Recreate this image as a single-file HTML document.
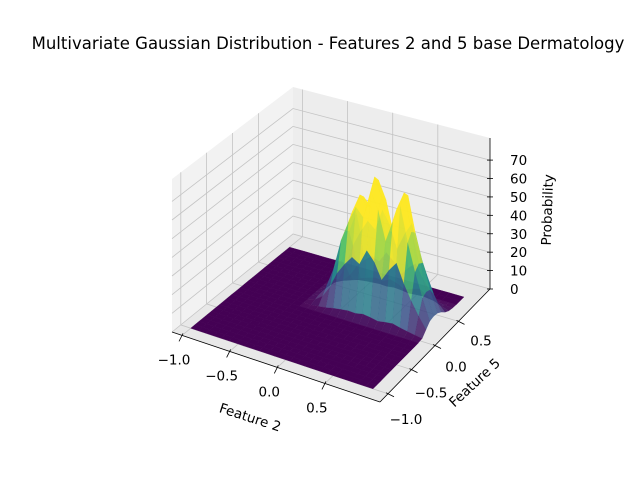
<!DOCTYPE html>
<html><head><meta charset="utf-8"><style>
body{margin:0;background:#fff;}
svg{display:block;font-family:"DejaVu Sans","Liberation Sans",sans-serif;}
</style></head><body>
<svg id="chart" width="640" height="480" viewBox="0 0 640 480">
<text x="328" y="49" text-anchor="middle" font-size="16.5" fill="#000">Multivariate Gaussian Distribution - Features 2 and 5 base Dermatology</text>
<g id="panes"></g><g id="grid"></g><g id="axes"></g><g id="surface"></g><g id="labels"></g>
<text x="250" y="422" text-anchor="middle" font-size="13.5" transform="rotate(18 250 418)">Feature 2</text>
<text x="475" y="387" text-anchor="middle" font-size="13.5" transform="rotate(-43 475 383)">Feature 5</text>
<text x="552" y="210" text-anchor="middle" font-size="13.5" transform="rotate(-88 552 210)">Probability</text>
</svg>
<script>
// data
const xGrid = [-1,-0.92,-0.84,-0.76,-0.68,-0.6,-0.52,-0.44,-0.36,-0.28,-0.2,-0.12,-0.04,0.04,0.12,0.2,0.28,0.36,0.44,0.52,0.6,0.68,0.76,0.84,0.92];
const yGrid = [-1,-0.92,-0.84,-0.76,-0.68,-0.6,-0.52,-0.44,-0.36,-0.28,-0.2,-0.12,-0.04,0.04,0.12,0.2,0.28,0.36,0.44,0.52,0.6,0.68,0.76,0.84,0.92];
const colPeak = [0,0,0,0,0,0,0,0,0,2,8,20,38,50,60,55,72,62,45,58,68,48,32,18,6];
const rowProfile = [0,0,0,0,0,0,0,0,0,0,0,0,0,0.05,0.5,0.92,1.0,0.95,0.7,0.35,0.12,0.03,0,0,0];
const xTicks = [-1.0,-0.5,0.0,0.5];
const xTickLabels = ["\u22121.0","\u22120.5","0.0","0.5"];
const yTicks = [-1.0,-0.5,0.0,0.5];
const yTickLabels = ["\u22121.0","\u22120.5","0.0","0.5"];
const zTicks = [0,10,20,30,40,50,60,70];

const X0=-1.105,X1=1.078,Y0=-1.17,Y1=1.17,Z0=0,Z1=82;
const L=[172,332],F=[380,402],R=[490,289],B=[293,234];
const HL=153,HF=155,HR=151,HB=147;
const NS='http://www.w3.org/2000/svg';
function bil(a,b,c,d,u,v){return a*(1-u)*(1-v)+b*u*(1-v)+c*u*v+d*(1-u)*v;}
function projUV(u,v,w){
  const px=bil(L[0],F[0],R[0],B[0],u,v), py=bil(L[1],F[1],R[1],B[1],u,v);
  const h=bil(HL,HF,HR,HB,u,v);
  return [px,py-w*h];
}
function proj(x,y,z){return projUV((x-X0)/(X1-X0),(y-Y0)/(Y1-Y0),(z-Z0)/(Z1-Z0));}
function mk(tag,attrs,parent){const e=document.createElementNS(NS,tag);for(const k in attrs)e.setAttribute(k,attrs[k]);parent.appendChild(e);return e;}
function pts(a){return a.map(p=>p[0].toFixed(1)+','+p[1].toFixed(1)).join(' ');}
const gP=document.getElementById('panes'),gG=document.getElementById('grid'),gA=document.getElementById('axes'),gS=document.getElementById('surface'),gL=document.getElementById('labels');

let p=mk('polygon',{points:pts([projUV(0,0,0),projUV(0,1,0),projUV(0,1,1),projUV(0,0,1)]),fill:'#f2f2f2',stroke:'none'},gP);


p=mk('polygon',{points:pts([projUV(0,1,0),projUV(1,1,0),projUV(1,1,1),projUV(0,1,1)]),fill:'#ededed',stroke:'none'},gP);


p=mk('polygon',{points:pts([projUV(0,0,0),projUV(1,0,0),projUV(1,1,0),projUV(0,1,0)]),fill:'#e8e8e8',stroke:'none'},gP);



const gs={stroke:'#c4c4c4','stroke-width':0.8,fill:'none'};
xTicks.forEach(t=>{
  const a=proj(t,Y0,0),b=proj(t,Y1,0),c=proj(t,Y1,Z1);
  const l=mk('polyline',Object.assign({points:pts([a,b,c])},gs),gG);
  
  
});
yTicks.forEach(t=>{
  const a=proj(X1,t,0),b=proj(X0,t,0),c=proj(X0,t,Z1);
  const l=mk('polyline',Object.assign({points:pts([a,b,c])},gs),gG);
  
  
});
zTicks.forEach(t=>{
  const a=proj(X0,Y0,t),b=proj(X0,Y1,t),c=proj(X1,Y1,t);
  const l=mk('polyline',Object.assign({points:pts([a,b,c])},gs),gG);
  
  
});

const as={stroke:'#000','stroke-width':0.8,fill:'none'};
let ax=mk('polyline',Object.assign({points:pts([projUV(0,0,0),projUV(1,0,0)])},as),gA);


ax=mk('polyline',Object.assign({points:pts([projUV(1,0,0),projUV(1,1,0)])},as),gA);


ax=mk('polyline',Object.assign({points:pts([projUV(1,1,0),projUV(1,1,1)])},as),gA);



xTicks.forEach((t,i)=>{
  const a=proj(t,Y0,0);
  const tk=mk('line',{x1:a[0]+1,y1:a[1]-2,x2:a[0]-3,y2:a[1]+6,stroke:'#000','stroke-width':0.8},gA);
  
  
  const tx=mk('text',{x:a[0]-8,y:a[1]+29,'text-anchor':'middle','font-size':13.5},gL);
  tx.textContent=xTickLabels[i];
  
  
});
yTicks.forEach((t,i)=>{
  const a=proj(X1,t,0);
  const tk=mk('line',{x1:a[0]-2,y1:a[1]-1,x2:a[0]+6,y2:a[1]+3,stroke:'#000','stroke-width':0.8},gA);
  
  
  const tx=mk('text',{x:a[0]+18+i*1.5,y:a[1]+30-i*2,'text-anchor':'middle','font-size':13.5},gL);
  tx.textContent=yTickLabels[i];
  
  
});
zTicks.forEach(t=>{
  const a=proj(X1,Y1,t);
  const tk=mk('line',{x1:a[0]-3,y1:a[1],x2:a[0]+3,y2:a[1],stroke:'#000','stroke-width':0.8},gA);
  
  
  const tx=mk('text',{x:a[0]+20,y:a[1]+5,'text-anchor':'start','font-size':13.5},gL);
  tx.textContent=String(t);
  
  
});

const vir=[[0,[68,1,84]],[0.25,[59,82,139]],[0.5,[33,145,140]],[0.75,[94,201,98]],[1,[253,231,37]]];
function cmap(t){t=Math.max(0,Math.min(1,t));for(let i=1;i<vir.length;i++){if(t<=vir[i][0]){const a=vir[i-1],b=vir[i],f=(t-a[0])/(b[0]-a[0]);return 'rgb('+a[1].map((c,k)=>Math.round(c+(b[1][k]-c)*f)).join(',')+')';}}return 'rgb(253,231,37)';}
const zMax=Math.max(...colPeak);
function zAt(i,j){return colPeak[i]*rowProfile[j];}
const quads=[];
for(let i=0;i<xGrid.length-1;i++)for(let j=0;j<yGrid.length-1;j++){
  const zs=[zAt(i,j),zAt(i+1,j),zAt(i+1,j+1),zAt(i,j+1)];
  const xc=(xGrid[i]+xGrid[i+1])/2,yc=(yGrid[j]+yGrid[j+1])/2;
  quads.push({i,j,zs,depth:((yc-Y0)/(Y1-Y0))-((xc-X0)/(X1-X0))});
}
quads.sort((a,b)=>b.depth-a.depth);
quads.forEach(q=>{
  const {i,j,zs}=q;
  const P=[proj(xGrid[i],yGrid[j],zs[0]),proj(xGrid[i+1],yGrid[j],zs[1]),proj(xGrid[i+1],yGrid[j+1],zs[2]),proj(xGrid[i],yGrid[j+1],zs[3])];
  const avg=(zs[0]+zs[1]+zs[2]+zs[3])/4;
  const col=cmap(avg/(zMax*0.6));
  const flat=avg===0;
  const op=flat?1:(avg<3?0.95:0.85);
  const poly=mk('polygon',{points:pts(P),fill:col,'fill-opacity':op,stroke:col,'stroke-opacity':flat?1:0.4,'stroke-width':0.4},gS);
  
  
});
</script>
</body></html>
